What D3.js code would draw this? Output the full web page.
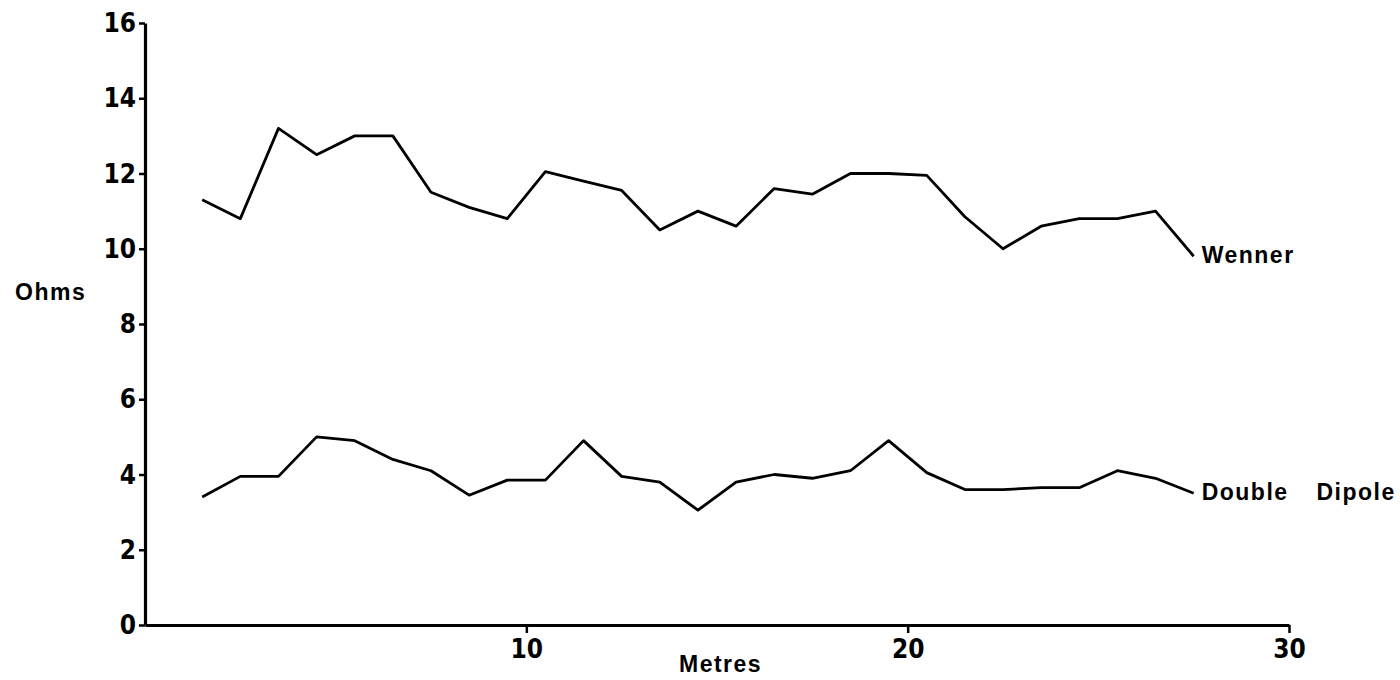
<!DOCTYPE html>
<html>
<head>
<meta charset="utf-8">
<script src="https://cdn.jsdelivr.net/npm/d3@7"></script>
<style>
  body { margin: 0; background: #fff; }
  .tick text { font-family: 'Liberation Sans Narrow', 'DejaVu Sans Condensed', 'Liberation Sans', Arial, sans-serif; font-weight: bold; font-size: 26px; fill: #000; }
  .lbl { font-family: 'Liberation Sans', Arial, sans-serif; font-weight: bold; font-size: 23px; letter-spacing: 1.5px; fill: #000; }
</style>
</head>
<body>
<div id="chart"></div>
<script>
const width = 1400, height = 680;

// distance along the line, metres
const metres = [1.5, 2.5, 3.5, 4.5, 5.5, 6.5, 7.5, 8.5, 9.5, 10.5, 11.5, 12.5, 13.5, 14.5,
  15.5, 16.5, 17.5, 18.5, 19.5, 20.5, 21.5, 22.5, 23.5, 24.5, 25.5, 26.5, 27.5];

// resistance readings, ohms
const wenner = [11.3, 10.8, 13.2, 12.5, 13.0, 13.0, 11.5, 11.1, 10.8, 12.05, 11.8, 11.55, 10.5, 11.0,
  10.6, 11.6, 11.45, 12.0, 12.0, 11.95, 10.85, 10.0, 10.6, 10.8, 10.8, 11.0, 9.8];
const doubleDipole = [3.4, 3.95, 3.95, 5.0, 4.9, 4.4, 4.1, 3.45, 3.85, 3.85, 4.9, 3.95, 3.8, 3.05,
  3.8, 4.0, 3.9, 4.1, 4.9, 4.05, 3.6, 3.6, 3.65, 3.65, 4.1, 3.9, 3.5];

const xTicks = [10, 20, 30];
const yTicks = [0, 2, 4, 6, 8, 10, 12, 14, 16];

const svg = d3.select('#chart')
  .append('svg')
  .attr('width', width)
  .attr('height', height);

const x = d3.scaleLinear().domain([0, 30]).range([145, 1289]);
const y = d3.scaleLinear().domain([0, 16]).range([625, 23]);

// axes
const yAxis = svg.append('g')
  .attr('transform', `translate(${x(0)},0)`)
  .call(d3.axisLeft(y).tickValues(yTicks).tickSize(6).tickSizeOuter(0).tickPadding(4));

const xAxis = svg.append('g')
  .attr('transform', `translate(0,${y(0)})`)
  .call(d3.axisBottom(x).tickValues(xTicks).tickSize(8).tickSizeOuter(0));

svg.selectAll('.domain').attr('stroke', '#000').attr('stroke-width', 3.2);
svg.selectAll('.tick line').attr('stroke', '#000').attr('stroke-width', 2.5);
yAxis.selectAll('.tick text').attr('x', -9).attr('dy', '0.33em');
xAxis.selectAll('.tick text').attr('y', 33).attr('dy', 0);

// lines
const line = d3.line()
  .x(d => x(d[0]))
  .y(d => y(d[1]));

const series = [
  { name: 'Wenner', values: wenner },
  { name: 'Double Dipole', values: doubleDipole }
];

svg.selectAll('path.series')
  .data(series)
  .enter().append('path')
  .attr('class', 'series')
  .attr('d', s => line(metres.map((m, i) => [m, s.values[i]])))
  .attr('fill', 'none')
  .attr('stroke', '#000')
  .attr('stroke-width', 2.8)
  .attr('stroke-linejoin', 'round');

// series labels at the end of each line
svg.selectAll('text.series-label')
  .data(series)
  .enter().append('text')
  .attr('class', 'lbl series-label')
  .attr('x', s => x(metres[metres.length - 1]) + 8)
  .attr('y', s => y(s.values[s.values.length - 1]) + 7)
  .attr('word-spacing', 20)
  .text(s => s.name);

// axis titles
svg.append('text')
  .attr('class', 'lbl')
  .attr('x', 15)
  .attr('y', 300)
  .text('Ohms');

svg.append('text')
  .attr('class', 'lbl')
  .attr('x', 679)
  .attr('y', 672)
  .text('Metres');
</script>
</body>
</html>
